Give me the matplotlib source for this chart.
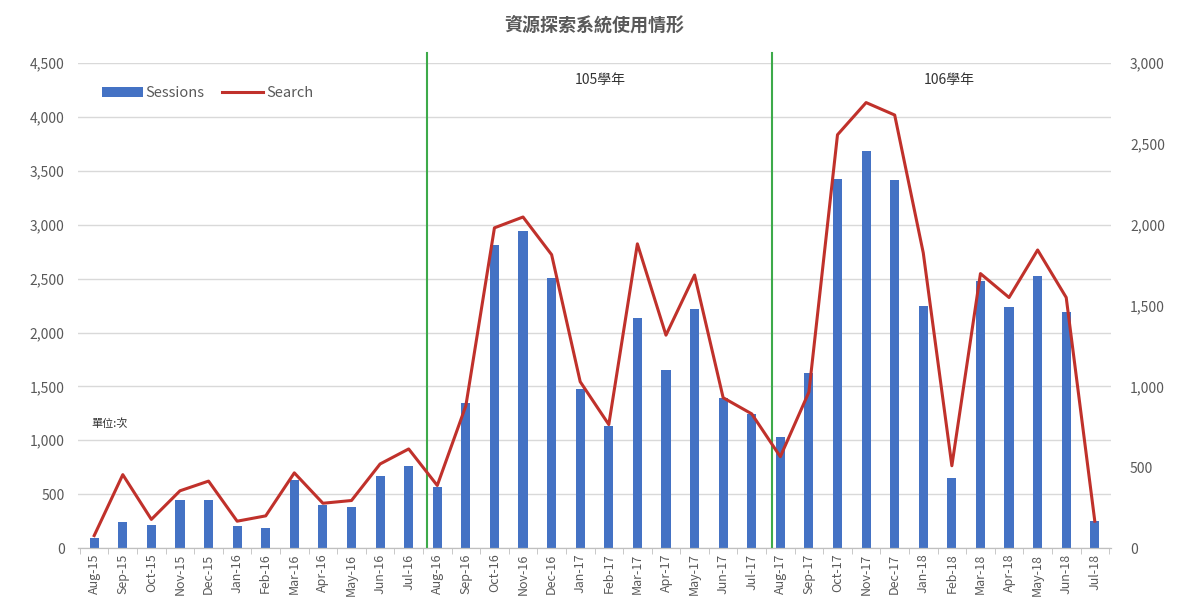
import matplotlib.pyplot as plt
import numpy as np

plt.rcParams['font.family'] = ['Noto Sans CJK TC', 'DejaVu Sans']

# Monthly data, Aug-15 .. Jul-18
months = ['Aug-15', 'Sep-15', 'Oct-15', 'Nov-15', 'Dec-15', 'Jan-16', 'Feb-16', 'Mar-16',
          'Apr-16', 'May-16', 'Jun-16', 'Jul-16', 'Aug-16', 'Sep-16', 'Oct-16', 'Nov-16',
          'Dec-16', 'Jan-17', 'Feb-17', 'Mar-17', 'Apr-17', 'May-17', 'Jun-17', 'Jul-17',
          'Aug-17', 'Sep-17', 'Oct-17', 'Nov-17', 'Dec-17', 'Jan-18', 'Feb-18', 'Mar-18',
          'Apr-18', 'May-18', 'Jun-18', 'Jul-18']
sessions = [90, 242, 216, 448, 445, 200, 185, 635, 400, 385, 670, 764,
            565, 1345, 2813, 2946, 2508, 1478, 1129, 2136, 1651, 2215, 1395, 1245,
            1030, 1627, 3421, 3686, 3411, 2248, 648, 2481, 2235, 2524, 2192, 249]
search = [77, 454, 177, 354, 414, 166, 199, 465, 277, 294, 520, 613,
          387, 880, 1981, 2048, 1815, 1029, 764, 1882, 1317, 1689, 930, 830,
          565, 965, 2557, 2756, 2679, 1826, 509, 1698, 1550, 1844, 1550, 166]
year_breaks = [11.65, 23.7]
year_labels = ['105學年', '106學年']

x = np.arange(len(months))
grey = '#595959'

fig = plt.figure(figsize=(11.89, 6.13), dpi=100)
ax = fig.add_axes([0.066, 0.106, 0.868, 0.791])
ax2 = ax.twinx()

ax.set_axisbelow(True)
ax.yaxis.grid(True, color='#D9D9D9', linewidth=1)
bars = ax.bar(x, sessions, width=0.32, color='#4472C4', label='Sessions', zorder=2)
line, = ax2.plot(x, search, color='#C0312B', linewidth=2.2, label='Search', zorder=3)

ax.set_xlim(-0.55, len(months) - 0.45)
ax.set_ylim(0, 4500)
ax2.set_ylim(0, 3000)
ax.set_yticks(np.arange(0, 4501, 500))
ax2.set_yticks(np.arange(0, 3001, 500))
ax.yaxis.set_major_formatter(plt.FuncFormatter(lambda v, p: f'{int(v):,}'))
ax2.yaxis.set_major_formatter(plt.FuncFormatter(lambda v, p: f'{int(v):,}'))

ax.set_xticks(x)
ax.set_xticklabels(months, rotation=90, fontsize=9, color=grey)
ax.set_xticks(np.arange(-0.5, len(months), 1), minor=True)
ax.tick_params(axis='x', which='major', length=0, pad=4)
ax.tick_params(axis='x', which='minor', length=4, color='#BFBFBF')
ax.tick_params(axis='y', length=0, labelsize=10, labelcolor=grey, pad=10)
ax2.tick_params(axis='y', length=0, labelsize=10, labelcolor=grey, pad=14)

for a in (ax, ax2):
    for s in ('top', 'left', 'right'):
        a.spines[s].set_visible(False)
    a.spines['bottom'].set_color('#BFBFBF')

# Academic year separators
for xb in year_breaks:
    ax.axvline(xb, ymin=0, ymax=1.02, color='#3DAA4A', linewidth=1.5, clip_on=False, zorder=4)

ax.text(17.7, 4340, year_labels[0], ha='center', va='center', fontsize=10, color='#333333')
ax.text(29.9, 4340, year_labels[1], ha='center', va='center', fontsize=10, color='#333333')
ax.text(-0.1, 1150, '單位:次', ha='left', va='center', fontsize=8, color='#333333')

fig.suptitle('資源探索系統使用情形', x=0.5, y=0.975, fontsize=13, fontweight='bold', color=grey)

ax.legend(handles=[bars, line], loc='upper left', bbox_to_anchor=(0.01, 0.98), ncol=2,
          frameon=False, fontsize=10.5, labelcolor=grey, handlelength=2.8, handletextpad=0.2,
          columnspacing=1.2)

fig.savefig('out.png', dpi=100)
